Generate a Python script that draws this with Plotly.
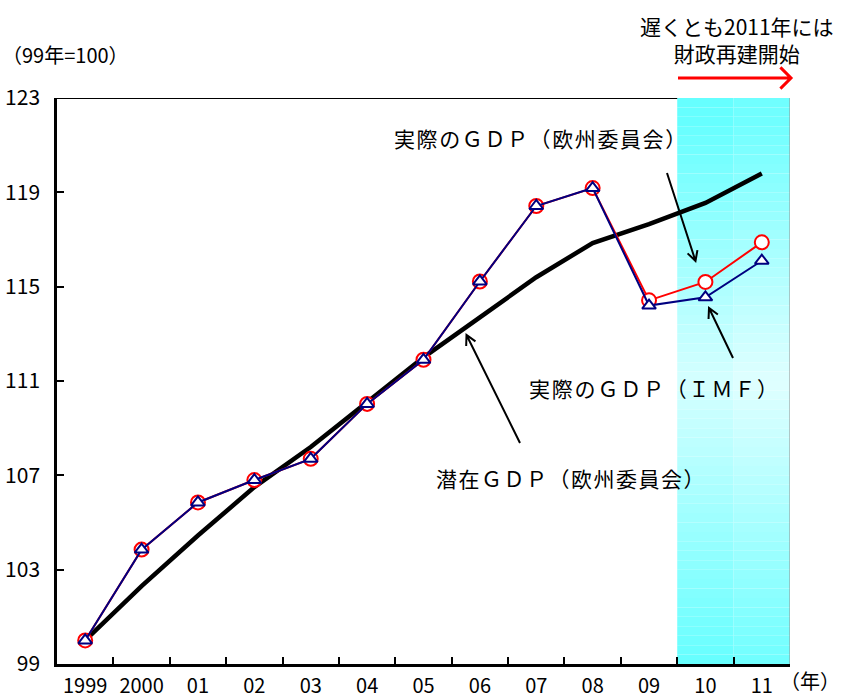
import math
import plotly.graph_objects as go

# ---- data ----
years = ["1999", "2000", "01", "02", "03", "04", "05", "06", "07", "08", "09", "10", "11"]
potential_gdp_ec = [100.0, 102.3, 104.45, 106.5, 108.2, 110.1, 112.0, 113.7, 115.4, 116.85, 117.65, 118.55, 119.8]
actual_gdp_ec = [100.0, 103.85, 105.85, 106.8, 107.7, 110.03, 111.9, 115.22, 118.42, 119.18, 114.42, 115.2, 116.88]
actual_gdp_imf = [100.0, 103.85, 105.85, 106.8, 107.7, 110.03, 111.9, 115.22, 118.42, 119.18, 114.2, 114.55, 116.1]
y_ticks = [99, 103, 107, 111, 115, 119, 123]

# ---- layout geometry (pixels) ----
W, H = 842, 699
L, R, T, B = 57, 790, 98, 664
PW, PH = R - L, B - T


def px(x):
    return (x - L) / PW


def py(y):
    return (B - y) / PH


JP = "Noto Sans CJK JP"
NUM = "Liberation Sans Narrow, Noto Sans CJK JP"

fig = go.Figure()
fig.add_trace(go.Scatter(x=years, y=potential_gdp_ec, mode="lines",
                         line=dict(color="black", width=4.5), hoverinfo="skip"))
fig.add_trace(go.Scatter(x=years, y=actual_gdp_ec, mode="lines+markers",
                         line=dict(color="#FF0000", width=2),
                         marker=dict(symbol="circle", size=14, color="white",
                                     line=dict(color="#FF0000", width=2))))
fig.add_trace(go.Scatter(x=years, y=actual_gdp_imf, mode="lines+markers",
                         line=dict(color="#000080", width=2),
                         marker=dict(symbol="triangle-up", size=12, color="white",
                                     line=dict(color="#000080", width=2))))

shapes = []
# gradient shading (2011 fiscal consolidation zone)
n = 60
for xa, xb, extra in [(10.5, 11.5, 0), (11.5, 12.5, 10)]:
    for i in range(n):
        t = (i + 0.5) / n
        if t < 0.5:
            f = max(0.0, (t - 0.04) / 0.46)
        else:
            f = (1 - t) / 0.5
        r = int(102 + (214 - 102) * f) + extra
        color = f"rgb({min(r, 232)},255,255)"
        y0 = 123 - 24 * i / n
        y1 = 123 - 24 * (i + 1) / n
        shapes.append(dict(type="rect", xref="x", yref="y", x0=xa, x1=xb, y0=y1, y1=y0,
                           fillcolor=color, line=dict(width=0), layer="below"))
# top frame line and right gray border
shapes.append(dict(type="line", xref="x", yref="y", x0=-0.5, x1=10.5, y0=123, y1=123,
                   line=dict(color="black", width=2), layer="below"))
shapes.append(dict(type="line", xref="x", yref="y", x0=12.5, x1=12.5, y0=99, y1=123,
                   line=dict(color="#909090", width=1), layer="below"))


def arrow(tail, tip, color, width, head, ang):
    x0, y0 = tail
    x1, y1 = tip
    d = math.hypot(x1 - x0, y1 - y0)
    ux, uy = (x1 - x0) / d, (y1 - y0) / d
    a = math.radians(ang)
    pts = []
    for s in (1, -1):
        c, sn = math.cos(s * a), math.sin(s * a)
        rx = ux * c - uy * sn
        ry = ux * sn + uy * c
        pts.append((x1 - head * rx, y1 - head * ry))
    path = (f"M{px(x0)},{py(y0)} L{px(x1)},{py(y1)} "
            f"M{px(pts[0][0])},{py(pts[0][1])} L{px(x1)},{py(y1)} L{px(pts[1][0])},{py(pts[1][1])}")
    return dict(type="path", xref="paper", yref="paper", path=path,
                line=dict(color=color, width=width), layer="above")


shapes.append(arrow((667, 173), (695.5, 261), "black", 2, 11, 28))
shapes.append(arrow((733, 358), (709, 308), "black", 2, 11, 28))
shapes.append(arrow((520, 443), (466.5, 335), "black", 2, 11, 28))
shapes.append(arrow((678, 78), (791, 78), "#FF0000", 3, 15, 45))

annotations = []


def label(text, x, y, size=21, xanchor="center", font=JP, spacing=None):
    if spacing:
        text = f'<span style="letter-spacing:{spacing}px">{text}</span>'
    annotations.append(dict(text=text, xref="paper", yref="paper", x=px(x), y=py(y),
                            xanchor=xanchor, yanchor="middle", showarrow=False,
                            font=dict(family=font, size=size, color="black")))


label("（99年=100）", 0, 55, size=20, xanchor="left")
label("遅くとも2011年には<br>財政再建開始", 737, 40)
label("実際のＧＤＰ（欧州委員会）", 541, 138, spacing=1.6)
label("実際のＧＤＰ（ＩＭＦ）", 654, 388, spacing=1.8)
label("潜在ＧＤＰ（欧州委員会）", 571, 478, spacing=1.5)
label("（年）", 842, 680, size=20, xanchor="right")

fig.update_layout(
    width=W, height=H, autosize=False,
    margin=dict(l=L, r=W - R, t=T, b=H - B),
    paper_bgcolor="white", plot_bgcolor="white",
    showlegend=False,
    shapes=shapes, annotations=annotations,
    xaxis=dict(type="category", categoryorder="array", categoryarray=years,
               range=[-0.5, 12.5], tickson="boundaries", ticks="inside", ticklen=7,
               tickwidth=1.5, tickcolor="black", showgrid=False, zeroline=False,
               showline=True, linecolor="black", linewidth=2.5, tickangle=0,
               automargin=False,
               tickfont=dict(family=NUM, size=20, color="black"), ticklabelstandoff=2),
    yaxis=dict(range=[99, 123], tickvals=y_ticks, ticks="inside", ticklen=7,
               tickwidth=1.5, tickcolor="black", showgrid=False, zeroline=False,
               showline=True, linecolor="black", linewidth=2.5, automargin=False,
               tickfont=dict(family=NUM, size=21, color="black"), ticklabelstandoff=10),
)

fig.write_html("out.html")
